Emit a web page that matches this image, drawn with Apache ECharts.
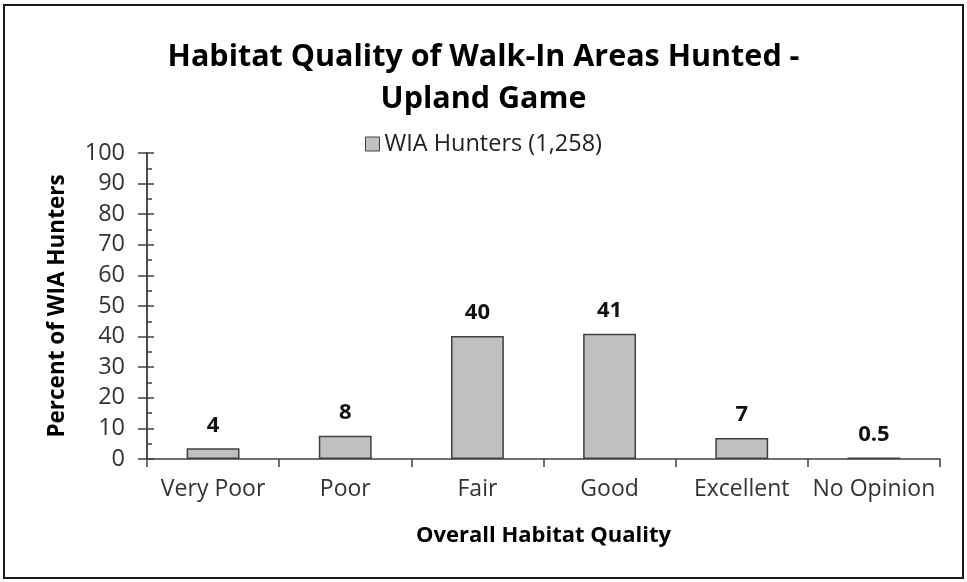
<!DOCTYPE html>
<html>
<head>
<meta charset="utf-8">
<script src="https://cdn.jsdelivr.net/npm/echarts@6/dist/echarts.min.js"></script>
<style>
  html, body { margin: 0; padding: 0; background: #fff; }
  #frame { position: absolute; left: 3px; top: 4px; width: 957px; height: 571px; border: 2px solid #1a1a1a; }
  #main { width: 967px; height: 582px; position: absolute; left: 0; top: 0; }
</style>
</head>
<body>
<div id="frame"></div>
<div id="main"></div>
<script>
  // data
  var categories = ['Very Poor', 'Poor', 'Fair', 'Good', 'Excellent', 'No Opinion'];
  var percents = [3.5, 7.6, 40.2, 40.9, 6.9, 0.5];
  var shownLabels = ['4', '8', '40', '41', '7', '0.5'];
  var seriesName = 'WIA Hunters (1,258)';

  var font = '"Open Sans", Lato, sans-serif';
  var chart = echarts.init(document.getElementById('main'));

  var option = {
    backgroundColor: 'transparent',
    title: {
      text: 'Habitat Quality of Walk-In Areas Hunted -\nUpland Game',
      left: 'center',
      top: 31,
      textStyle: { fontFamily: font, fontSize: 30.5, fontWeight: 'bold', color: '#000', lineHeight: 42 }
    },
    legend: {
      data: [seriesName],
      top: 127,
      left: 'center',
      icon: 'rect',
      itemWidth: 14,
      itemHeight: 14,
      itemGap: 4,
      itemStyle: { borderColor: '#404040', borderWidth: 1 },
      textStyle: { fontFamily: font, fontSize: 23.5, color: '#222' }
    },
    grid: { left: 147, right: 27, top: 153, bottom: 123, containLabel: false },
    xAxis: {
      type: 'category',
      data: categories,
      name: 'Overall Habitat Quality',
      nameLocation: 'middle',
      nameGap: 66,
      nameTextStyle: { fontFamily: font, fontSize: 22, fontWeight: 'bold', color: '#000' },
      axisLine: { lineStyle: { color: '#404040', width: 1.5 } },
      axisTick: { show: true, length: 8, lineStyle: { color: '#404040', width: 1.5 } },
      axisLabel: { fontFamily: font, fontSize: 23, color: '#333', margin: 19, interval: 0 }
    },
    yAxis: [{
      type: 'value',
      min: 0, max: 100, interval: 10,
      name: 'Percent of WIA Hunters',
      nameLocation: 'middle',
      nameGap: 78,
      nameTextStyle: { fontFamily: font, fontSize: 22.5, fontWeight: 'bold', color: '#000' },
      axisLine: { show: true, lineStyle: { color: '#404040', width: 1.5 } },
      axisTick: { show: true, inside: false, length: 9, lineStyle: { color: '#404040', width: 1.5 } },
      axisLabel: { fontFamily: font, fontSize: 23.5, color: '#333', margin: 22 },
      splitLine: { show: false }
    }, {
      type: 'value',
      position: 'left',
      min: 0, max: 100, interval: 10,
      axisLine: { show: true, lineStyle: { color: '#404040', width: 1.5 } },
      axisTick: { show: true, inside: true, length: 7, lineStyle: { color: '#404040', width: 1.5 } },
      minorTick: { show: true, splitNumber: 2, length: 5, lineStyle: { color: '#404040', width: 1.5 } },
      axisLabel: { show: false },
      splitLine: { show: false }
    }],
    series: [{
      name: seriesName,
      type: 'bar',
      data: percents,
      barWidth: '40%',
      itemStyle: { color: '#c0c0c0', borderColor: '#404040', borderWidth: 1.5 },
      label: {
        show: true,
        position: 'top',
        distance: 12,
        fontFamily: font,
        fontSize: 22,
        fontWeight: 'bold',
        color: '#111',
        formatter: function (p) { return shownLabels[p.dataIndex]; }
      }
    }]
  };
  chart.setOption(option);
</script>
</body>
</html>
